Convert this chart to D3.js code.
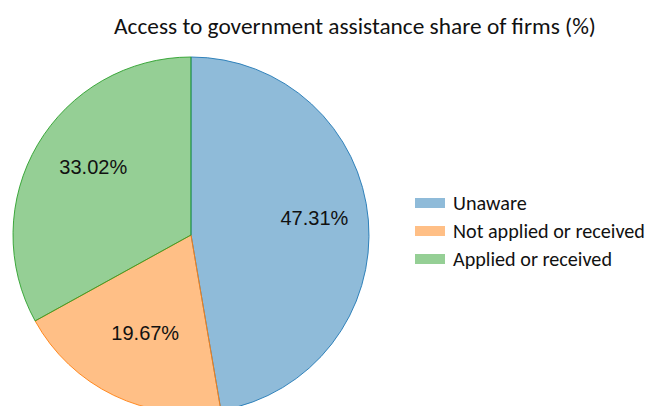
<!DOCTYPE html>
<html>
<head>
<meta charset="utf-8">
<script src="https://cdn.jsdelivr.net/npm/d3@7"></script>
<style>
  body { margin: 0; background: #fff; }
  svg { display: block; }
</style>
</head>
<body>
<svg width="649" height="406"></svg>
<script>
// chart data
var categories = ["Unaware", "Not applied or received", "Applied or received"];
var shares = [47.31, 19.67, 33.02];
var colours = ["#1f77b4", "#ff7f0e", "#2ca02c"];
var titleText = "Access to government assistance share of firms (%)";

var svg = d3.select("svg"),
    width = +svg.attr("width"),
    height = +svg.attr("height"),
    cx = 191,
    cy = 235,
    radius = 178;

var titleFont = "Carlito, Calibri, 'Open Sans', sans-serif";

// title, scaled so that it spans the same width as in the reference
var title = svg.append("text")
    .attr("x", 355)
    .attr("y", 34)
    .attr("text-anchor", "middle")
    .style("font-family", titleFont)
    .style("font-size", "20px")
    .style("fill", "#111")
    .text(titleText);
var tw = title.node().getComputedTextLength();
title.style("font-size", (20 * 482 / tw) + "px");

var g = svg.append("g").attr("transform", "translate(" + cx + "," + cy + ")");

var pie = d3.pie().sort(null).value(function(d) { return d; });
var arcs = pie(shares);

var arc = d3.arc().innerRadius(0).outerRadius(radius);

g.selectAll("path")
    .data(arcs)
    .enter().append("path")
    .attr("d", arc)
    .style("fill", function(d, i) { return colours[i]; })
    .style("fill-opacity", 0.5)
    .style("stroke", function(d, i) { return colours[i]; })
    .style("stroke-width", 0.9);

// inside labels are not all at the same distance from the centre
var labelRadius = [0.70, 0.61, 0.67];
var labelShift = [-3.1, -0.8, 4.4]; // degrees

g.selectAll("text.pct")
    .data(arcs)
    .enter().append("text")
    .attr("class", "pct")
    .attr("transform", function(d, i) {
        var a = (d.startAngle + d.endAngle) / 2 + labelShift[i] * Math.PI / 180,
            r = radius * labelRadius[i];
        return "translate(" + (r * Math.sin(a)) + "," + (-r * Math.cos(a)) + ")";
    })
    .attr("text-anchor", "middle")
    .attr("dy", "0.35em")
    .style("font-family", "'Liberation Sans', Arial, sans-serif")
    .style("font-size", "20px")
    .style("fill", "#111")
    .text(function(d) { return d.data.toFixed(2) + "%"; });

// legend
var legend = svg.append("g").attr("transform", "translate(415,203)");
var rowH = 28;

var item = legend.selectAll("g")
    .data(categories)
    .enter().append("g")
    .attr("transform", function(d, i) { return "translate(0," + (i * rowH) + ")"; });

item.append("rect")
    .attr("x", 0)
    .attr("y", -5)
    .attr("width", 30)
    .attr("height", 10)
    .style("fill", function(d, i) { return colours[i]; })
    .style("fill-opacity", 0.5);

var ltext = item.append("text")
    .attr("x", 38)
    .attr("dy", "0.35em")
    .style("font-family", titleFont)
    .style("font-size", "18px")
    .style("fill", "#111")
    .text(function(d) { return d; });

// fit legend text width to the reference (longest label is ~192px)
var lw = ltext.nodes()[1].getComputedTextLength();
ltext.style("font-size", (18 * 192 / lw) + "px");
</script>
</body>
</html>
